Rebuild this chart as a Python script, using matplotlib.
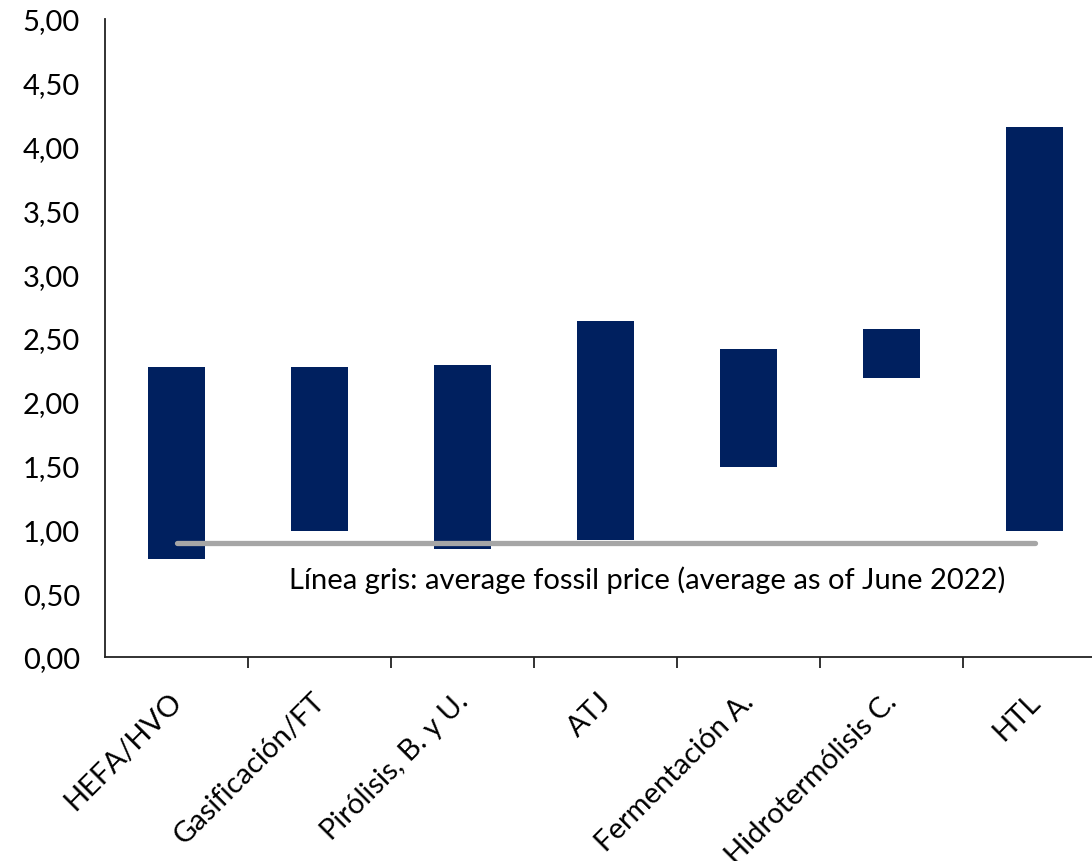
import numpy as np
import matplotlib.pyplot as plt
import matplotlib.transforms as mtransforms
from matplotlib.ticker import FuncFormatter, FixedLocator

plt.rcParams['font.family'] = ['Lato', 'DejaVu Sans']

# Cost ranges per pathway (low / high)
categories = ['HEFA/HVO', 'Gasificación/FT', 'Pirólisis, B. y U.', 'ATJ',
              'Fermentación A.', 'Hidrotermólisis C.', 'HTL']
low = [0.77, 0.99, 0.85, 0.92, 1.49, 2.19, 0.99]
high = [2.27, 2.27, 2.29, 2.63, 2.41, 2.57, 4.15]
fossil = [0.89, 0.89, 0.89, 0.89, 0.89, 0.89, 0.89]

navy = '#00205F'
grey = '#A6A6A6'

fig = plt.figure(figsize=(10.92, 8.62), dpi=100)
ax = fig.add_axes([0.0962, 0.2367, 0.9167, 0.7401])

x = np.arange(len(categories))
heights = np.array(high) - np.array(low)
ax.bar(x, heights, bottom=low, width=0.4, color=navy, zorder=2)
ax.plot(x, fossil, color=grey, lw=3.8, solid_capstyle='round', zorder=3)

ax.text(3.29, 0.61, 'Línea gris: average fossil price (average as of June 2022)',
        ha='center', va='center', fontsize=21)

ax.set_xlim(-0.5, 6.5)
ax.set_ylim(0, 5)
ax.set_yticks(np.arange(0, 5.01, 0.5))
ax.yaxis.set_major_formatter(FuncFormatter(lambda v, p: f'{v:.2f}'.replace('.', ',')))
ax.tick_params(axis='y', length=0, labelsize=21, pad=18)

ax.set_xticks(x)
ax.set_xticklabels(categories, rotation=45, ha='right', rotation_mode='anchor', fontsize=21)
ax.tick_params(axis='x', which='major', length=0, pad=22)
ax.xaxis.set_minor_locator(FixedLocator(np.arange(0.5, 6.0, 1.0)))
ax.tick_params(axis='x', which='minor', length=8, width=1.3, color='#222222')
offset = mtransforms.ScaledTranslation(-0.08, 0, fig.dpi_scale_trans)
for lbl in ax.get_xticklabels():
    lbl.set_transform(lbl.get_transform() + offset)

for s in ['top', 'right']:
    ax.spines[s].set_visible(False)
for s in ['left', 'bottom']:
    ax.spines[s].set_linewidth(1.3)
    ax.spines[s].set_color('#222222')

fig.savefig('out.png', dpi=100)
